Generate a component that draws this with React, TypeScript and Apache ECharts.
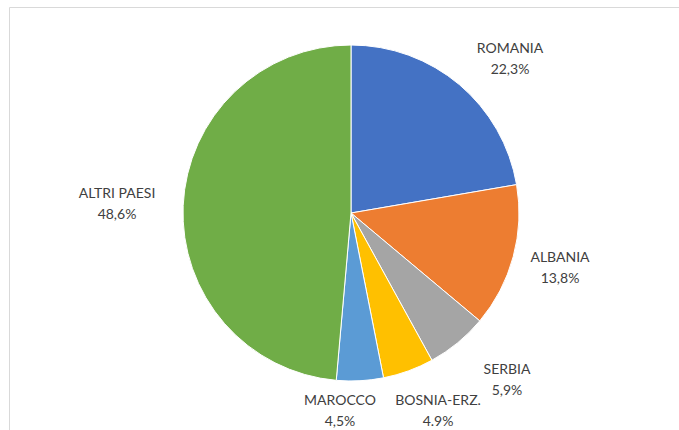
import React, { useEffect, useRef } from "react";
import * as echarts from "echarts";

const categories = ["ROMANIA", "ALBANIA", "SERBIA", "BOSNIA-ERZ.", "MAROCCO", "ALTRI PAESI"];
const values = [22.3, 13.8, 5.9, 4.9, 4.5, 48.6];
const pctLabels = ["22,3%", "13,8%", "5,9%", "4.9%", "4,5%", "48,6%"];
const colors = ["#4472C4", "#ED7D31", "#A5A5A5", "#FFC000", "#5B9BD5", "#70AD47"];

// label centre positions (layout, pixels)
const labelPos: [number, number][] = [
  [510, 58],
  [560, 267],
  [507, 379],
  [438, 410],
  [340, 410],
  [117, 203],
];

export default function App() {
  const ref = useRef<HTMLDivElement>(null);
  useEffect(() => {
    document.body.style.margin = "0";
    const chart = echarts.init(ref.current!, null, { renderer: "svg" });
    chart.setOption({
      animation: false,
      backgroundColor: "#ffffff",
      graphic: [
        {
          type: "rect",
          shape: { x: 9.5, y: 7.5, width: 700, height: 440 },
          style: { fill: "none", stroke: "#d9d9d9", lineWidth: 1 },
          silent: true,
        },
      ],
      series: [
        {
          type: "pie",
          center: [351, 213],
          radius: 168,
          startAngle: 90,
          clockwise: true,
          data: categories.map((c, i) => ({
            name: c,
            value: values[i],
            itemStyle: { color: colors[i] },
          })),
          itemStyle: { borderColor: "#ffffff", borderWidth: 1 },
          label: {
            show: true,
            position: "outside",
            formatter: (p: any) => `${p.name}\n${pctLabels[p.dataIndex]}`,
            fontFamily: "Lato, 'Open Sans', sans-serif",
            fontSize: 14,
            lineHeight: 21,
            color: "#404040",
            align: "center",
          },
          labelLine: { show: false },
          labelLayout: (params: any) => ({
            x: labelPos[params.dataIndex][0],
            y: labelPos[params.dataIndex][1],
            align: "center",
            verticalAlign: "middle",
          }),
          emphasis: { disabled: true },
        },
      ],
    });
    return () => chart.dispose();
  }, []);
  return <div ref={ref} style={{ width: 679, height: 430 }} />;
}
